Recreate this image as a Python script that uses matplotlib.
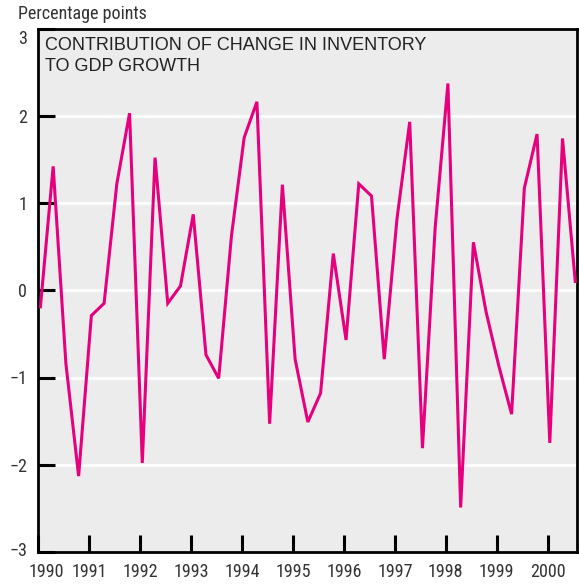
import matplotlib
matplotlib.use("Agg")
import matplotlib.pyplot as plt
import matplotlib.transforms as mtransforms
from matplotlib import font_manager
import numpy as np

# quarterly contribution of inventory change to GDP growth, 1990Q1 - 2000Q3
start_year = 1990
values = [-0.19, 1.42, -0.84, -2.13,
          -0.29, -0.15, 1.22, 2.03,
          -1.98, 1.52, -0.15, 0.05,
          0.87, -0.74, -1.01, 0.62,
          1.75, 2.16, -1.53, 1.21,
          -0.79, -1.51, -1.18, 0.42,
          -0.57, 1.22, 1.08, -0.79,
          0.82, 1.93, -1.81, 0.72,
          2.37, -2.49, 0.55, -0.25,
          -0.87, -1.42, 1.17, 1.79,
          -1.75, 1.74, 0.10]
year_ticks = list(range(1990, 2001))
y_ticks = [-3, -2, -1, 0, 1, 2, 3]
title = "CONTRIBUTION OF CHANGE IN INVENTORY\nTO GDP GROWTH"
y_label = "Percentage points"

# plot each quarter at the middle of its first month
quarter_idx = np.arange(len(values))
x = start_year + (quarter_idx * 3 + 0.5) / 12

# look for a narrow face for the axis labels
fonts = font_manager.fontManager.ttflist
names = {f.name for f in fonts}
narrow = None
for cand in ["Liberation Sans Narrow", "Roboto Condensed", "Open Sans Condensed",
             "DejaVu Sans Condensed"]:
    if cand in names:
        narrow = dict(family=cand, size=13)
        break
if narrow is None:
    cond = [f for f in fonts if f.name == "DejaVu Sans" and "ondensed" in str(f.stretch) + f.fname]
    if cond:
        narrow = dict(fname=cond[0].fname, size=12.5)
    else:
        narrow = dict(family="Roboto", size=11.5)
label_fp = font_manager.FontProperties(**narrow)

dpi = 100
fig = plt.figure(figsize=(5.79, 5.84), dpi=dpi)
ax = fig.add_axes([38.3 / 579, 32 / 584, (576.7 - 38.3) / 579, (555.5 - 32) / 584])
ax.set_facecolor("#ececec")

ax.plot(x, values, color="#e6007e", lw=2.2, solid_joinstyle="miter", zorder=3)

ax.set_xlim(1990, 2000.57)
ax.set_ylim(-3, 3)
ax.set_xticks(year_ticks)
ax.set_xticklabels([str(y) for y in year_ticks])
ax.set_yticks(y_ticks)
ax.set_yticklabels([str(t).replace("-", "\u2212") for t in y_ticks])

for yv in y_ticks[1:-1]:
    ax.axhline(yv, color="white", lw=2, zorder=1)

for s in ax.spines.values():
    s.set_linewidth(2)
    s.set_color("black")

ax.tick_params(direction="in", length=12, width=2.2, color="black",
               labelcolor="#333333", pad=8)
for lbl in ax.get_xticklabels() + ax.get_yticklabels():
    lbl.set_fontproperties(label_fp)

# nudge the edge labels inside like the original
def shift(lbl, dx, dy):
    off = mtransforms.ScaledTranslation(dx / dpi, dy / dpi, fig.dpi_scale_trans)
    lbl.set_transform(lbl.get_transform() + off)

shift(ax.get_xticklabels()[0], 8, 0)
shift(ax.get_yticklabels()[-1], 0, -8)
shift(ax.get_yticklabels()[0], 0, 3)

ax.text(0.013, 0.983, title, transform=ax.transAxes, ha="left", va="top",
        fontsize=13, color="#222222", family=["Liberation Sans", "DejaVu Sans"],
        linespacing=1.28)

fig.text(18 / 579, 1 - 19 / 584, y_label, ha="left", va="baseline",
         fontproperties=label_fp, color="#333333")

fig.savefig("out.png", dpi=dpi)
